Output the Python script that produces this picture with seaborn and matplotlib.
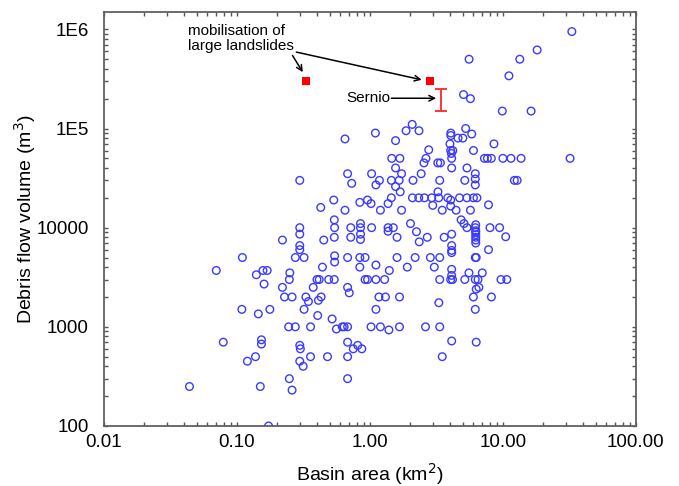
import matplotlib
matplotlib.use("Agg")
import matplotlib.pyplot as plt
import seaborn as sns
from matplotlib.ticker import FixedLocator, LogLocator, NullFormatter

# basin area (km2) and debris flow volume (m3)
area = [33.0, 18.1, 5.57, 13.4, 11.1, 5.06, 5.70, 9.9, 16.3, 2.08, 1.87, 2.34, 1.10, 5.25,
        4.06, 4.06, 4.6, 5.0, 5.83, 0.65, 1.56, 4.0, 8.57, 2.77, 4.05, 4.2, 4.1, 6.01,
        1.46, 1.68, 2.64, 4.12, 7.26, 7.65, 8.19, 10.0, 11.5, 13.7, 32.0,
        3.24, 3.39, 2.55, 1.56, 4.12, 5.37,
        0.68, 1.03, 1.73, 2.43, 6.2,
        0.297, 1.18, 1.45, 1.66, 2.11, 3.35, 5.17, 6.2, 12.2, 12.8,
        0.73, 1.11, 6.2, 1.56, 1.69, 3.25,
        2.09, 2.33, 2.57, 2.92, 3.29, 3.85, 4.72, 5.37, 6.01, 6.38, 1.45,
        4.05, 0.535, 0.96, 1.02, 0.84, 1.37, 2.97, 7.8, 0.427, 4.05,
        0.65, 1.20, 1.73, 3.5, 4.45, 5.7,
        0.54, 4.85, 5.1, 0.85, 2.02,
        0.297, 0.543, 0.718, 0.85, 1.03, 1.37, 1.50, 5.37, 6.2, 8.0, 9.45,
        6.25, 6.25, 6.25, 6.25, 6.25, 6.25, 6.25,
        1.37, 2.24, 0.297, 0.85, 4.12, 0.45, 0.22, 0.54, 0.718, 0.85, 1.60, 2.70, 3.62, 10.5,
        2.35, 0.297, 0.297, 4.12, 4.12, 4.12, 7.8,
        0.11, 0.275, 0.32, 0.68, 0.84, 0.92, 1.60, 2.19, 2.85, 3.35, 6.2, 6.3,
        0.543, 0.543,
        0.44, 0.84, 1.91, 3.05, 1.11, 4.12,
        0.07, 0.157, 0.169, 1.40, 0.14, 0.25, 5.56, 7.0, 4.12,
        0.248, 0.40, 0.416, 0.49, 0.54, 0.92, 0.96, 1.11, 1.29, 3.35, 4.05, 4.18, 5.17, 6.2,
        6.5, 9.67, 10.7,
        0.16, 0.22, 0.375, 0.68, 6.6, 0.70, 6.3,
        0.228, 0.26, 0.33, 0.43, 1.17, 1.31, 1.67, 6.0, 8.2,
        0.345, 0.41, 3.3,
        0.109, 0.177, 0.32, 1.11, 6.2,
        0.145, 0.405, 0.52,
        0.245, 0.275, 0.358, 0.62, 0.64, 0.68, 1.02, 1.20, 1.67, 2.62, 3.35,
        0.56, 1.39,
        0.079, 0.153, 0.153, 4.12, 6.3, 0.68,
        0.297, 0.30, 0.81, 0.87, 0.75,
        0.138, 0.358, 0.48, 0.68, 3.5,
        0.12, 0.297, 0.315, 0.248, 0.68, 0.044, 0.15, 0.26, 0.173]

volume = [950000, 620000, 500000, 500000, 340000, 220000, 200000, 150000, 150000, 110000, 95000, 95000, 90000, 100000,
          90000, 85000, 80000, 80000, 88000, 78500, 75500, 70000, 70000, 61000, 60000, 60000, 56000, 60000,
          50000, 50000, 50000, 50000, 50000, 50000, 50000, 50000, 50000, 50000, 50000,
          45000, 45000, 45000, 40000, 40000, 40000,
          35000, 35000, 35000, 35000, 35000,
          30000, 30000, 30000, 30000, 30000, 30000, 30000, 31000, 30000, 30000,
          28000, 27000, 27000, 26000, 23000, 23000,
          20000, 20000, 20000, 20000, 20000, 20000, 20000, 20000, 20000, 20000, 20000,
          19000, 19000, 19000, 17500, 18000, 17500, 16800, 17000, 16000, 16500,
          15000, 15000, 15000, 15000, 15000, 15000,
          12000, 12000, 11000, 11000, 11000,
          10000, 10000, 10000, 10000, 10000, 10000, 10000, 10000, 10000, 10000, 10000,
          10700, 9300, 9000, 8500, 8000, 7500, 7000,
          9200, 9100, 8600, 8600, 8600, 7500, 7500, 8000, 8000, 7600, 8000, 8000, 8000, 8100,
          7200, 6600, 6000, 6600, 5900, 5600, 6000,
          5000, 5000, 5000, 5000, 5000, 5000, 5000, 5000, 5000, 5000, 5000, 5000,
          5200, 4500,
          4000, 4000, 4000, 4000, 4200, 3800,
          3700, 3700, 3700, 3700, 3350, 3500, 3500, 3500, 3300,
          3000, 3000, 3000, 3000, 3000, 3000, 3000, 3000, 3000, 3000, 3000, 3000, 3000, 3000,
          3000, 3000, 3000,
          2700, 2500, 2500, 2500, 2500, 2200, 2400,
          2000, 2000, 2000, 2000, 2000, 2000, 2000, 2000, 2000,
          1800, 1850, 1750,
          1500, 1500, 1500, 1500, 1500,
          1350, 1300, 1200,
          1000, 1000, 1000, 1000, 1000, 1000, 1000, 1000, 1000, 1000, 1000,
          950, 930,
          700, 740, 670, 720, 700, 700,
          650, 600, 650, 600, 600,
          500, 500, 500, 500, 500,
          450, 450, 400, 300, 300, 250, 250, 230, 100]

# large landslide mobilisation events and the Sernio range
landslide_area = [0.33, 2.85]
landslide_volume = [300000, 300000]
sernio_area = [3.45]
sernio_low = [150000]
sernio_high = [250000]

x_ticks = [0.01, 0.1, 1, 10, 100]
x_labels = ["0.01", "0.10", "1.00", "10.00", "100.00"]
y_ticks = [100, 1000, 10000, 100000, 1000000]
y_labels = ["100", "1000", "10000", "1E5", "1E6"]

plt.rcParams["font.family"] = ["Liberation Sans", "DejaVu Sans"]

fig = plt.figure(figsize=(6.79, 4.86), dpi=100)
ax = fig.add_axes([0.153, 0.1235, 0.7835, 0.852])

sns.scatterplot(x=area, y=volume, ax=ax, marker="o", s=30, facecolor="none",
                edgecolor="#3a3aff", linewidth=1.0, zorder=3)
sns.scatterplot(x=landslide_area, y=landslide_volume, ax=ax, marker="s", s=32,
                color="#ff0000", edgecolor="none", zorder=4)

mid = [(lo + hi) / 2 for lo, hi in zip(sernio_low, sernio_high)]
err = [[m - lo for m, lo in zip(mid, sernio_low)], [hi - m for m, hi in zip(mid, sernio_high)]]
ax.errorbar(sernio_area, mid, yerr=err, fmt="none", ecolor="#ff3333",
            elinewidth=1.4, capsize=4, capthick=1.4, zorder=4)

ax.set_xscale("log")
ax.set_yscale("log")
ax.set_xlim(0.01, 100)
ax.set_ylim(100, 1.5e6)

ax.xaxis.set_major_locator(FixedLocator(x_ticks))
ax.set_xticklabels(x_labels)
ax.yaxis.set_major_locator(FixedLocator(y_ticks))
ax.set_yticklabels(y_labels)
for axis in (ax.xaxis, ax.yaxis):
    axis.set_minor_locator(LogLocator(base=10, subs=range(2, 10)))
    axis.set_minor_formatter(NullFormatter())

ax.tick_params(which="both", direction="in", top=True, right=True,
               color="#555555", length=3, width=1)
ax.tick_params(axis="x", which="major", labelsize=13.5, pad=6)
ax.tick_params(axis="y", which="major", labelsize=13.5, pad=11)
for sp in ax.spines.values():
    sp.set_color("#606060")
    sp.set_linewidth(1.3)

ax.set_xlabel("Basin area (km$^2$)", fontsize=14, labelpad=7)
ax.set_ylabel("Debris flow volume (m$^3$)", fontsize=14, labelpad=-1)

arrow = dict(arrowstyle="->", color="black", lw=1.1, shrinkA=0, shrinkB=0)
ax.text(0.0426, 8.1e5, "mobilisation of\nlarge landslides", fontsize=11,
        ha="left", va="center", linespacing=1.05)
ax.annotate("", xy=(0.313, 3.7e5), xytext=(0.262, 5.45e5), arrowprops=arrow)
ax.annotate("", xy=(2.45, 3.1e5), xytext=(0.28, 5.9e5), arrowprops=arrow)
ax.text(0.66, 2.02e5, "Sernio", fontsize=11, ha="left", va="center")
ax.annotate("", xy=(3.15, 2.02e5), xytext=(1.45, 2.02e5), arrowprops=arrow)

fig.savefig("out.png", dpi=100)
